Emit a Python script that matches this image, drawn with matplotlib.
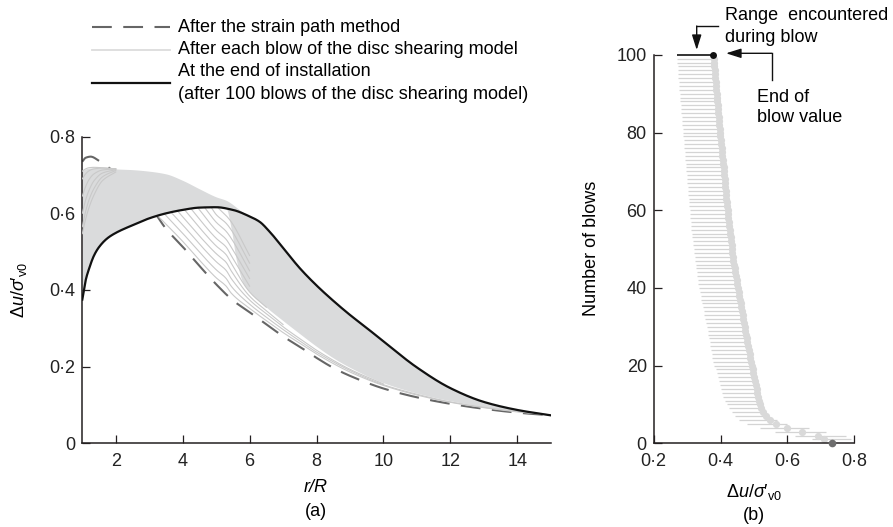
import numpy as np
import matplotlib.pyplot as plt
from matplotlib.lines import Line2D

plt.rcParams['font.family'] = ['Liberation Sans', 'DejaVu Sans']
plt.rcParams['mathtext.fontset'] = 'custom'
plt.rcParams['mathtext.rm'] = 'Liberation Sans'
plt.rcParams['mathtext.it'] = 'Liberation Sans:italic'
plt.rcParams['font.size'] = 13

# ---- (a) excess pore pressure profiles ----
# strain path method
r_sp = [1.0, 1.1, 1.25, 1.5, 1.75, 2.0, 2.5, 3.0, 3.5, 4.0, 4.5, 5.0, 5.5, 6.0,
        6.5, 7.0, 7.5, 8.0, 8.5, 9.0, 10.0, 11.0, 12.0, 13.0, 14.0, 15.0]
du_sp = [0.735, 0.745, 0.748, 0.737, 0.722, 0.705, 0.668, 0.622, 0.560, 0.513,
         0.463, 0.415, 0.373, 0.342, 0.310, 0.279, 0.252, 0.223, 0.197, 0.176,
         0.143, 0.120, 0.103, 0.090, 0.080, 0.073]

# end of installation (100 blows)
r_end = [1.0, 1.05, 1.1, 1.2, 1.35, 1.5, 1.75, 2.0, 2.5, 3.0, 3.5, 4.0, 4.5, 5.0,
         5.5, 6.0, 6.3, 6.6, 7.0, 7.5, 8.0, 8.5, 9.0, 9.5, 10.0, 11.0, 12.0,
         13.0, 14.0, 15.0]
du_end = [0.375, 0.400, 0.425, 0.455, 0.490, 0.512, 0.535, 0.549, 0.569, 0.587,
          0.600, 0.609, 0.615, 0.616, 0.609, 0.592, 0.578, 0.552, 0.510, 0.457,
          0.412, 0.372, 0.335, 0.301, 0.266, 0.198, 0.144, 0.108, 0.087, 0.073]

# band covered by the per-blow profiles
r_band = [1.0, 1.05, 1.1, 1.2, 1.35, 1.5, 1.75, 2.0, 2.5, 3.0, 3.5, 4.0, 4.5,
          5.0, 5.3, 5.45, 5.6, 5.8, 6.0, 6.5, 7.0, 7.5, 8.0, 8.5, 9.0, 10.0,
          11.0, 12.0, 13.0, 14.0, 15.0]
band_top = [0.710, 0.714, 0.716, 0.718, 0.719, 0.719, 0.718, 0.716, 0.714,
            0.710, 0.703, 0.686, 0.664, 0.643, 0.634, 0.626, 0.616, 0.603,
            0.592, 0.561, 0.510, 0.457, 0.412, 0.372, 0.335, 0.266, 0.198,
            0.144, 0.108, 0.087, 0.073]
band_bot = [0.375, 0.400, 0.425, 0.455, 0.490, 0.512, 0.535, 0.549, 0.569,
            0.587, 0.600, 0.609, 0.615, 0.616, 0.612, 0.560, 0.480, 0.420,
            0.395, 0.355, 0.320, 0.286, 0.253, 0.223, 0.198, 0.158, 0.131,
            0.111, 0.096, 0.084, 0.074]

# first blows close to the shaft
r_arc = [1.0, 1.1, 1.2, 1.35, 1.6, 2.0]
du_arcs = [
    [0.710, 0.716, 0.719, 0.720, 0.719, 0.716],
    [0.690, 0.703, 0.711, 0.716, 0.718, 0.716],
    [0.645, 0.670, 0.688, 0.703, 0.713, 0.716],
    [0.600, 0.635, 0.660, 0.685, 0.705, 0.714],
    [0.565, 0.605, 0.635, 0.665, 0.695, 0.712],
    [0.547, 0.585, 0.615, 0.648, 0.685, 0.708],
]

# individual profiles leaving the band below the end-of-installation curve
r_lines = [
    [3.25, 3.5, 4.0, 4.5, 5.0, 5.3, 5.45, 6.0, 6.5, 7.0, 7.5, 8.0, 9.0, 10.0,
     11.0, 12.0, 13.0, 14.0, 15.0],
    [3.45, 4.0, 4.5, 5.0, 5.3, 5.45, 6.0, 6.5, 7.0, 7.5, 8.0, 9.0, 10.0, 11.0,
     12.0, 13.0, 14.0, 15.0],
    [3.65, 4.0, 4.5, 5.0, 5.3, 5.45, 6.0, 6.5, 7.0, 7.5, 8.0, 9.0, 10.0],
    [3.85, 4.5, 5.0, 5.3, 5.45, 6.0, 6.5, 7.0],
    [4.05, 4.5, 5.0, 5.3, 5.45, 6.0, 6.5],
    [4.25, 4.5, 5.0, 5.3, 5.45, 6.0],
    [4.45, 5.0, 5.3, 5.45, 6.0],
    [4.65, 5.0, 5.3, 5.45, 6.0],
    [4.85, 5.0, 5.3, 5.45, 6.0],
    [5.05, 5.3, 5.45, 6.0],
]
du_lines = [
    [0.594, 0.572, 0.527, 0.478, 0.432, 0.410, 0.392, 0.352, 0.320, 0.289,
     0.261, 0.233, 0.186, 0.151, 0.126, 0.107, 0.093, 0.082, 0.074],
    [0.599, 0.548, 0.499, 0.453, 0.430, 0.410, 0.363, 0.329, 0.297, 0.267,
     0.238, 0.190, 0.153, 0.128, 0.108, 0.094, 0.083, 0.074],
    [0.603, 0.570, 0.520, 0.474, 0.451, 0.430, 0.374, 0.338, 0.304, 0.273,
     0.243, 0.193, 0.155],
    [0.606, 0.541, 0.495, 0.472, 0.450, 0.384, 0.346, 0.310],
    [0.610, 0.563, 0.515, 0.492, 0.470, 0.395, 0.355],
    [0.612, 0.585, 0.535, 0.512, 0.490, 0.410],
    [0.615, 0.556, 0.532, 0.512, 0.430],
    [0.616, 0.577, 0.553, 0.535, 0.450],
    [0.616, 0.597, 0.574, 0.557, 0.470],
    [0.615, 0.594, 0.578, 0.490],
]

xticks_a = [2, 4, 6, 8, 10, 12, 14]
yticks_a = [0, 0.2, 0.4, 0.6, 0.8]
ylabels_a = ['0', '0·2', '0·4', '0·6', '0·8']

# ---- (b) pore pressure at the shaft against blow count ----
du_start = 0.734   # before the first blow
du_blow_end = [
    0.710, 0.690, 0.645, 0.600, 0.565, 0.547, 0.536, 0.528, 0.522, 0.518,
    0.515, 0.512, 0.510, 0.508, 0.505, 0.503, 0.501, 0.498, 0.496, 0.494,
    0.492, 0.489, 0.487, 0.485, 0.483, 0.480, 0.478, 0.476, 0.474, 0.472,
    0.470, 0.468, 0.466, 0.464, 0.462, 0.460, 0.458, 0.456, 0.454, 0.452,
    0.450, 0.448, 0.446, 0.444, 0.442, 0.440, 0.438, 0.437, 0.435, 0.434,
    0.433, 0.431, 0.430, 0.429, 0.427, 0.426, 0.425, 0.423, 0.422, 0.421,
    0.420, 0.419, 0.417, 0.416, 0.415, 0.414, 0.413, 0.412, 0.411, 0.410,
    0.409, 0.408, 0.406, 0.405, 0.404, 0.403, 0.402, 0.400, 0.399, 0.398,
    0.397, 0.396, 0.395, 0.394, 0.393, 0.392, 0.391, 0.390, 0.389, 0.388,
    0.387, 0.386, 0.385, 0.384, 0.383, 0.382, 0.381, 0.380, 0.379, 0.378]
du_blow_min = [
    0.672, 0.622, 0.562, 0.517, 0.480, 0.455, 0.443, 0.433, 0.425, 0.419,
    0.413, 0.408, 0.404, 0.400, 0.397, 0.394, 0.391, 0.388, 0.385, 0.380,
    0.377, 0.375, 0.373, 0.371, 0.369, 0.367, 0.365, 0.363, 0.361, 0.358,
    0.356, 0.354, 0.351, 0.349, 0.347, 0.344, 0.342, 0.340, 0.337, 0.335,
    0.333, 0.332, 0.330, 0.329, 0.327, 0.326, 0.324, 0.323, 0.321, 0.320,
    0.318, 0.317, 0.315, 0.314, 0.313, 0.312, 0.311, 0.310, 0.309, 0.308,
    0.307, 0.306, 0.305, 0.304, 0.303, 0.302, 0.301, 0.300, 0.299, 0.298,
    0.297, 0.296, 0.295, 0.294, 0.293, 0.292, 0.291, 0.290, 0.289, 0.288,
    0.287, 0.286, 0.285, 0.284, 0.283, 0.282, 0.281, 0.280, 0.279, 0.278,
    0.277, 0.276, 0.275, 0.274, 0.273, 0.273, 0.272, 0.271, 0.270, 0.269]
# upper end of the range for the first blows; later blows peak at their end value
du_blow_max_first = [0.790, 0.775, 0.715, 0.665, 0.600, 0.570]
du_blow_max = du_blow_max_first + du_blow_end[len(du_blow_max_first):]
blows = np.arange(1, len(du_blow_end) + 1)

xticks_b = [0.2, 0.4, 0.6, 0.8]
xlabels_b = ['0·2', '0·4', '0·6', '0·8']
yticks_b = [0, 20, 40, 60, 80, 100]


def smooth(x, y, n=300):
    # monotone cubic (Fritsch-Carlson) through the points, for drawing only
    x = np.asarray(x, float)
    y = np.asarray(y, float)
    h = np.diff(x)
    d = np.diff(y) / h
    m = np.zeros_like(y)
    m[0], m[-1] = d[0], d[-1]
    for k in range(1, len(x) - 1):
        if d[k - 1] * d[k] > 0:
            w1 = 2 * h[k] + h[k - 1]
            w2 = h[k] + 2 * h[k - 1]
            m[k] = (w1 + w2) / (w1 / d[k - 1] + w2 / d[k])
    xs = np.linspace(x[0], x[-1], n)
    i = np.clip(np.searchsorted(x, xs) - 1, 0, len(h) - 1)
    t = (xs - x[i]) / h[i]
    ys = ((2 * t**3 - 3 * t**2 + 1) * y[i] + (t**3 - 2 * t**2 + t) * h[i] * m[i]
          + (-2 * t**3 + 3 * t**2) * y[i + 1] + (t**3 - t**2) * h[i] * m[i + 1])
    return xs, ys


W, H = 893, 527
fig = plt.figure(figsize=(W / 100, H / 100), dpi=100)


def fxy(px, py):
    return px / W, 1 - py / H


band_col = '#dadbdc'
line_col = '#c9c9c9'
ink = '#231f20'
tlabel = "$\\Delta u/\\sigma\u2032_{\\mathrm{v0}}$"

ax1 = fig.add_axes([82.3 / W, 1 - 443.3 / H, (550.7 - 82.3) / W, (443.3 - 136.7) / H])
ax1.plot(*smooth(r_sp, du_sp, 600), color='#666666', lw=1.5, dashes=(9.5, 5.5),
         zorder=1)
rb, top = smooth(r_band, band_top, 800)
_, bot = smooth(r_band, band_bot, 800)
ax1.fill_between(rb, bot, top, color=band_col, lw=0, zorder=2)
for du in du_arcs:
    ax1.plot(*smooth(r_arc, du, 60), color=line_col, lw=0.8, zorder=3)
for rr, du in zip(r_lines, du_lines):
    ax1.plot(*smooth(rr, du, 300), color=line_col, lw=0.8, zorder=3)
ax1.plot(*smooth(r_end, du_end, 800), color='#111111', lw=1.6, zorder=4)

ax1.set_xlim(1, 15)
ax1.set_ylim(0, 0.8)
ax1.set_xticks(xticks_a)
ax1.set_yticks(yticks_a)
ax1.set_yticklabels(ylabels_a)

ax2 = fig.add_axes([653.7 / W, 1 - 443.3 / H, (854.3 - 653.7) / W, (443.3 - 54.8) / H])
ax2.hlines(blows[:-1], du_blow_min[:-1], du_blow_max[:-1], colors='#d4d4d4',
           lw=0.9, zorder=1)
ax2.plot(du_blow_end[:-1], blows[:-1], 'o', color='#d9d9d9', ms=5.2, mec='none',
         zorder=2)
ax2.hlines(blows[-1], du_blow_min[-1], du_blow_end[-1], colors='#111111', lw=1.2,
           zorder=3, clip_on=False)
ax2.plot(du_blow_end[-1], blows[-1], 'o', color='#111111', ms=5, mec='none',
         zorder=4, clip_on=False)
ax2.plot(du_start, 0, 'o', color='#6e6e6e', ms=5.5, mec='none', zorder=5,
         clip_on=False)

ax2.set_xlim(0.2, 0.8)
ax2.set_ylim(0, 100)
ax2.set_xticks(xticks_b)
ax2.set_xticklabels(xlabels_b)
ax2.set_yticks(yticks_b)

for ax in (ax1, ax2):
    for side in ('top', 'right'):
        ax.spines[side].set_visible(False)
    for side in ('left', 'bottom'):
        ax.spines[side].set_color(ink)
        ax.spines[side].set_linewidth(1.1)
    ax.tick_params(direction='in', length=6, width=0.9, colors=ink,
                   labelsize=13, labelcolor='#222222')
    ax.tick_params(axis='x', pad=7)
    ax.tick_params(axis='y', pad=5)

# axis titles and panel captions
fig.text(*fxy(19, 290), tlabel, rotation=90, ha='center', va='center', fontsize=13)
fig.text(*fxy(316, 488), 'r/R', style='italic', ha='center', va='center', fontsize=13)
fig.text(*fxy(316, 511), '(a)', ha='center', va='center', fontsize=13)
fig.text(*fxy(591, 248), 'Number of blows', rotation=90, ha='center', va='center',
         fontsize=13)
fig.text(*fxy(754, 492), tlabel, ha='center', va='center', fontsize=13)
fig.text(*fxy(754, 516), '(b)', ha='center', va='center', fontsize=13)

# key for panel (a)
key = [
    ('#666666', 1.5, (9.5, 5.5), 27, ['After the strain path method']),
    ('#dcdcdc', 1.3, None, 50, ['After each blow of the disc shearing model']),
    ('#111111', 1.6, None, 83, ['At the end of installation',
                                '(after 100 blows of the disc shearing model)']),
]
for col, lw, dash, py, texts in key:
    x0, y0 = fxy(92, py)
    x1, _ = fxy(170, py)
    ln = Line2D([x0, x1], [y0, y0], color=col, lw=lw, transform=fig.transFigure)
    if dash:
        ln.set_dashes(dash)
    fig.add_artist(ln)
    if len(texts) == 1:
        fig.text(*fxy(178, py), texts[0], ha='left', va='center', fontsize=13)
    else:
        fig.text(*fxy(178, py - 11.5), texts[0], ha='left', va='center', fontsize=13)
        fig.text(*fxy(178, py + 11.5), texts[1], ha='left', va='center', fontsize=13)

# callouts in panel (b)
fig.text(*fxy(725, 15), 'Range  encountered', ha='left', va='center', fontsize=13)
fig.text(*fxy(725, 38), 'during blow', ha='left', va='center', fontsize=13)
fig.text(*fxy(757, 97), 'End of', ha='left', va='center', fontsize=13)
fig.text(*fxy(757, 117), 'blow value', ha='left', va='center', fontsize=13)

arrow = dict(arrowstyle='-|>,head_length=0.7,head_width=0.22', color='#111111',
             lw=1.0, shrinkA=0, shrinkB=0)
fig.add_artist(Line2D(*zip(fxy(718, 26), fxy(696.7, 26)), color='#111111', lw=1.0,
                      transform=fig.transFigure))
fig.add_artist(Line2D(*zip(fxy(771.7, 80), fxy(771.7, 53.3)), color='#111111',
                      lw=1.0, transform=fig.transFigure))
ax2.annotate('', xy=fxy(696.7, 50), xytext=fxy(696.7, 26),
             xycoords='figure fraction', textcoords='figure fraction',
             arrowprops=arrow)
ax2.annotate('', xy=fxy(726, 53.3), xytext=fxy(771.7, 53.3),
             xycoords='figure fraction', textcoords='figure fraction',
             arrowprops=arrow)

fig.savefig('out.png', dpi=100)
